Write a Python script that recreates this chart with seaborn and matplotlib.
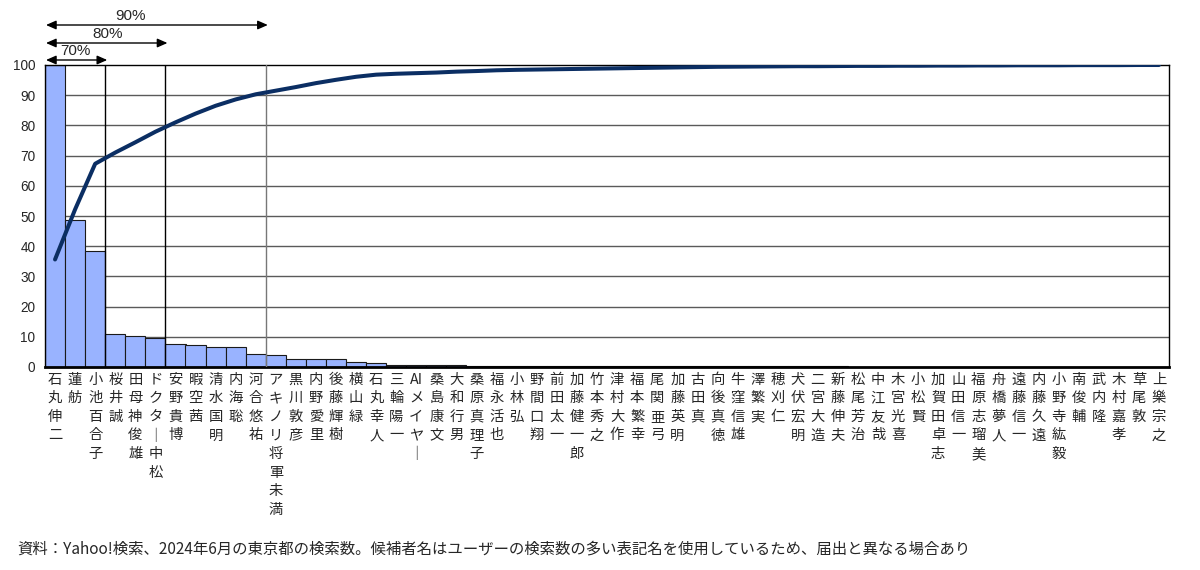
import numpy as np
import pandas as pd
import matplotlib
matplotlib.use('Agg')
import matplotlib.pyplot as plt
import seaborn as sns

# 候補者名（検索数の多い順）
names = [
    '石丸伸二', '蓮舫', '小池百合子', '桜井誠', '田母神俊雄', 'ドクター中松', '安野貴博', '暇空茜',
    '清水国明', '内海聡', '河合悠祐', 'アキノリ将軍未満', '黒川敦彦', '内野愛里', '後藤輝樹', '横山緑',
    '石丸幸人', '三輪陽一', 'AIメイヤー', '桑島康文', '大和行男', '桑原真理子', '福永活也', '小林弘',
    '野間口翔', '前田太一', '加藤健一郎', '竹本秀之', '津村大作', '福本繁幸', '尾関亜弓', '加藤英明',
    '古田真', '向後真徳', '牛窪信雄', '澤繁実', '穂刈仁', '犬伏宏明', '二宮大造', '新藤伸夫',
    '松尾芳治', '中江友哉', '木宮光喜', '小松賢', '加賀田卓志', '山田信一', '福原志瑠美', '舟橋夢人',
    '遠藤信一', '内藤久遠', '小野寺紘毅', '南俊輔', '武内隆', '木村嘉孝', '草尾敦', '上樂宗之',
]

# 検索数（最大=100）
search_index = [
    100, 48.7, 38.4, 10.8, 10.2, 9.6, 7.6, 7.2,
    6.6, 6.6, 4.4, 3.9, 2.8, 2.8, 2.8, 1.8,
    1.4, 0.8, 0.5, 0.5, 0.5, 0.35, 0.3, 0.25,
    0.25, 0.25, 0.25, 0.25, 0.25, 0.25, 0.2, 0.2,
    0.2, 0.2, 0.2, 0.2, 0.2, 0.2, 0.2, 0.2,
    0.15, 0.15, 0.15, 0.15, 0.15, 0.15, 0.15, 0.15,
    0.15, 0.15, 0.1, 0.1, 0.1, 0.1, 0.1, 0.1,
]

# 累積比率（%）
cum_pct = [
    35.6, 52.2, 67.3, 71.0, 74.4, 77.9, 81.0, 83.9,
    86.5, 88.6, 90.3, 91.5, 92.7, 94.0, 95.1, 96.1,
    96.8, 97.1, 97.3, 97.5, 97.8, 98.0, 98.25, 98.4,
    98.5, 98.6, 98.7, 98.8, 98.9, 99.0, 99.1, 99.2,
    99.3, 99.4, 99.45, 99.5, 99.55, 99.6, 99.6, 99.65,
    99.7, 99.7, 99.75, 99.75, 99.8, 99.8, 99.85, 99.85,
    99.9, 99.9, 99.9, 99.95, 99.95, 99.95, 100, 100,
]

# 70/80/90% ライン（上位何人で到達するか）
cut_labels = ['70%', '80%', '90%']
cut_after = [3, 6, 11]

note = '資料：Yahoo!検索、2024年6月の東京都の検索数。候補者名はユーザーの検索数の多い表記名を使用しているため、届出と異なる場合あり'

sns.set_theme(style='white')
plt.rcParams['font.family'] = ['Liberation Sans', 'Noto Sans CJK JP', 'DejaVu Sans']
JP = ['Noto Sans CJK JP', 'DejaVu Sans']


def tate(s):
    """縦書き用に1文字ずつ改行（英字はまとめる）"""
    out = []
    buf = ''
    for ch in s:
        if ch.isascii():
            buf += ch
            continue
        if buf:
            out.append(buf)
            buf = ''
        out.append('｜' if ch == 'ー' else ch)
    if buf:
        out.append(buf)
    return '\n'.join(out)


df = pd.DataFrame({'name': names, 'value': search_index})
n = len(names)

fig = plt.figure(figsize=(12, 5.7), dpi=100)
ax = fig.add_axes([45 / 1200, 1 - 367 / 570, 1124 / 1200, 302 / 570])

for yv in range(10, 100, 10):
    ax.axhline(yv, color='#5a5a5a', lw=1.0, zorder=0)

sns.barplot(data=df, x='name', y='value', color='#99b3ff', saturation=1,
            edgecolor='#1a1a1a', linewidth=0.8, width=1.0, ax=ax, zorder=2)

for k, c in zip(cut_after, ['black', 'black', '#777777']):
    ax.axvline(k - 0.5, color=c, lw=1.0, zorder=3)

sns.lineplot(x=np.arange(n), y=cum_pct, color='#0b2e63', lw=2.9, ax=ax, zorder=4)

ax.set_xlim(-0.5, n - 0.5)
ax.set_ylim(0, 100)
ax.set_yticks(range(0, 101, 10))
ax.set_xticks(range(n))
ax.set_xticklabels([tate(s) for s in names], family=JP, fontsize=10.3,
                   va='top', ha='center', linespacing=1.42)
ax.tick_params(axis='x', length=0, pad=4)
ax.tick_params(axis='y', length=0, pad=7, labelsize=9.8)
ax.set_xlabel('')
ax.set_ylabel('')
for s in ['left', 'right', 'top']:
    ax.spines[s].set_color('black')
    ax.spines[s].set_linewidth(1.0)
ax.spines['bottom'].set_color('black')
ax.spines['bottom'].set_linewidth(2.0)

# 上部の矢印
arrow_y = [1 - 60 / 570, 1 - 43 / 570, 1 - 25 / 570]
label_x = [1.0, 2.6, 3.75]
for lab, k, yy, lx in zip(cut_labels, cut_after, arrow_y, label_x):
    ax.annotate('', xy=(-0.45, yy), xytext=(k - 0.5 + 0.1, yy),
                xycoords=('data', 'figure fraction'),
                textcoords=('data', 'figure fraction'),
                arrowprops=dict(arrowstyle='<|-|>,head_length=0.5,head_width=0.22',
                                color='black', lw=1.0, shrinkA=0, shrinkB=0),
                annotation_clip=False)
    ax.annotate(lab, xy=(lx, yy + 0.003), xycoords=('data', 'figure fraction'),
                ha='center', va='bottom', fontsize=11, annotation_clip=False)

fig.text(17 / 1200, 1 - 549 / 570, note, family=JP, fontsize=11.1, va='center', ha='left')

fig.savefig('out.png', dpi=100)
